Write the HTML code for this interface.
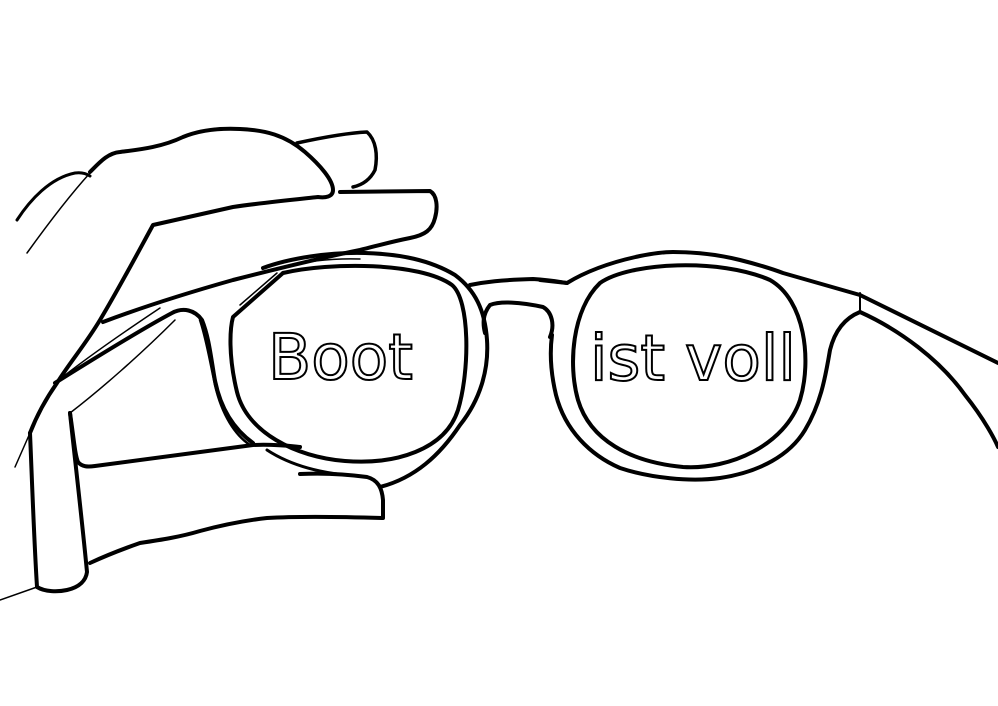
<!DOCTYPE html>
<html><head><meta charset="utf-8"><style>
html,body{margin:0;padding:0;background:#fff;}
svg{display:block;}
</style></head><body>
<svg width="998" height="706" viewBox="0 0 998 706" xmlns="http://www.w3.org/2000/svg">
<g fill="none" stroke="#000" stroke-linecap="round" stroke-linejoin="round">
<!-- thumb back outlines -->
<path d="M17,220 C30,200 50,178 75,173 C82,172 87,174 90,176" stroke-width="3"/>
<path d="M27,253 C45,228 70,195 90,173" stroke-width="1.5"/>
<!-- middle finger -->
<path d="M90,172 C100,162 108,153 120,152 C135,150 160,148 183,137 C200,130 220,128 240,129 C265,130 285,135 305,152 C320,165 333,180 333,190 C333,197 325,198 318,197 C290,200 260,203 233,207 L153,225 C135,258 118,290 100,320 C85,345 70,362 57,383 C45,400 37,415 30,433" stroke-width="4"/>
<path d="M15,467 L30,433" stroke-width="1.5"/>
<!-- ring finger -->
<path d="M297,143 C320,138 345,133 367,132 C376,140 378,155 375,170 C370,180 362,185 353,187" stroke-width="3.5"/>
<!-- index finger -->
<path d="M340,192 L430,191 C437,195 438,207 435,218 C432,230 425,235 410,238 C390,242 380,245 360,250 C320,258 280,268 233,280 C180,295 140,308 103,322" stroke-width="4"/>
<!-- thumb -->
<path d="M55,383 C95,358 140,330 172,313 C183,307 195,310 202,320 C208,335 210,350 214,375 C218,400 228,425 253,443" stroke-width="4"/>
<path d="M160,308 C130,328 90,355 55,383" stroke-width="1.5"/>
<!-- inner thumb / palm -->
<path d="M70,413 C100,390 140,355 175,320" stroke-width="1.5"/>
<path d="M70,413 C74,440 75,455 78,462 C82,467 88,467 95,466 L253,445 C275,444 290,446 300,447" stroke-width="4"/>
<!-- pinky -->
<path d="M300,474 C320,473 345,474 367,477 C378,480 382,488 383,500 L383,518 C350,517 300,516 267,518 C240,521 215,527 200,531 C180,537 160,540 140,543 C120,550 105,556 90,563" stroke-width="4"/>
<!-- palm edge -->
<path d="M30,433 C32,480 34,540 37,587 C45,592 58,592 67,590 C80,587 86,580 87,572 C82,520 75,460 70,413" stroke-width="4"/>
<path d="M0,600 L37,587" stroke-width="1.5"/>

<!-- left lens outer frame -->
<path d="M200,320 C205,335 210,360 215,385 C222,415 235,435 250,445" stroke-width="2.5"/>
<path d="M263,268 C290,258 330,252 365,253 C400,254 430,260 455,275 C475,290 485,310 487,340 C489,370 480,400 460,425 C440,455 415,478 380,487" stroke-width="4"/>
<path d="M280,268 C300,262 330,258 360,259" stroke-width="1.5"/>
<path d="M267,450 C290,465 320,474 360,476" stroke-width="3"/>
<!-- left lens inner -->
<path d="M283,273 C330,262 420,262 452,285 C470,300 470,370 458,410 C445,450 395,465 345,461 C295,457 247,432 237,392 C228,355 230,328 233,317 L283,273" stroke-width="4"/>
<path d="M277,273 L240,305" stroke-width="1.5"/>

<!-- bridge -->
<path d="M470,285 C485,282 500,280 533,279 C550,280 560,282 567,283" stroke-width="4"/>
<path d="M485,333 C483,325 482,315 490,305 C500,301 520,302 543,307 C552,312 555,325 550,337" stroke-width="4"/>

<!-- right lens outer frame -->
<path d="M540,280 L567,283 C585,272 607,263 640,256 C655,253 665,252 673,252 C700,252 720,255 740,260 C760,265 775,270 783,273 L860,295" stroke-width="4"/>
<path d="M860,293 L860,312" stroke-width="2"/>
<path d="M860,295 L998,363" stroke-width="4"/>
<path d="M860,312 C900,330 940,360 965,395 C985,420 995,440 998,447" stroke-width="4"/>
<path d="M860,312 C845,318 835,330 830,350 C825,380 820,405 805,430 C790,455 760,472 720,478 C690,482 650,478 620,468 C590,455 565,430 556,395 C550,370 550,350 552,335" stroke-width="4"/>
<!-- right lens inner -->
<path d="M600,283 C630,262 720,258 770,280 C805,300 812,360 800,400 C785,445 730,470 683,467 C630,462 590,440 578,400 C568,365 572,310 600,283 Z" stroke-width="4"/>
</g>
<g font-family="'DejaVu Sans', 'Liberation Sans', sans-serif" font-size="63" fill="#fff" stroke="#000" stroke-width="2">
<text x="268" y="379">Boot</text>
<text x="590" y="380">ist voll</text>
</g>
</svg>
</body></html>
